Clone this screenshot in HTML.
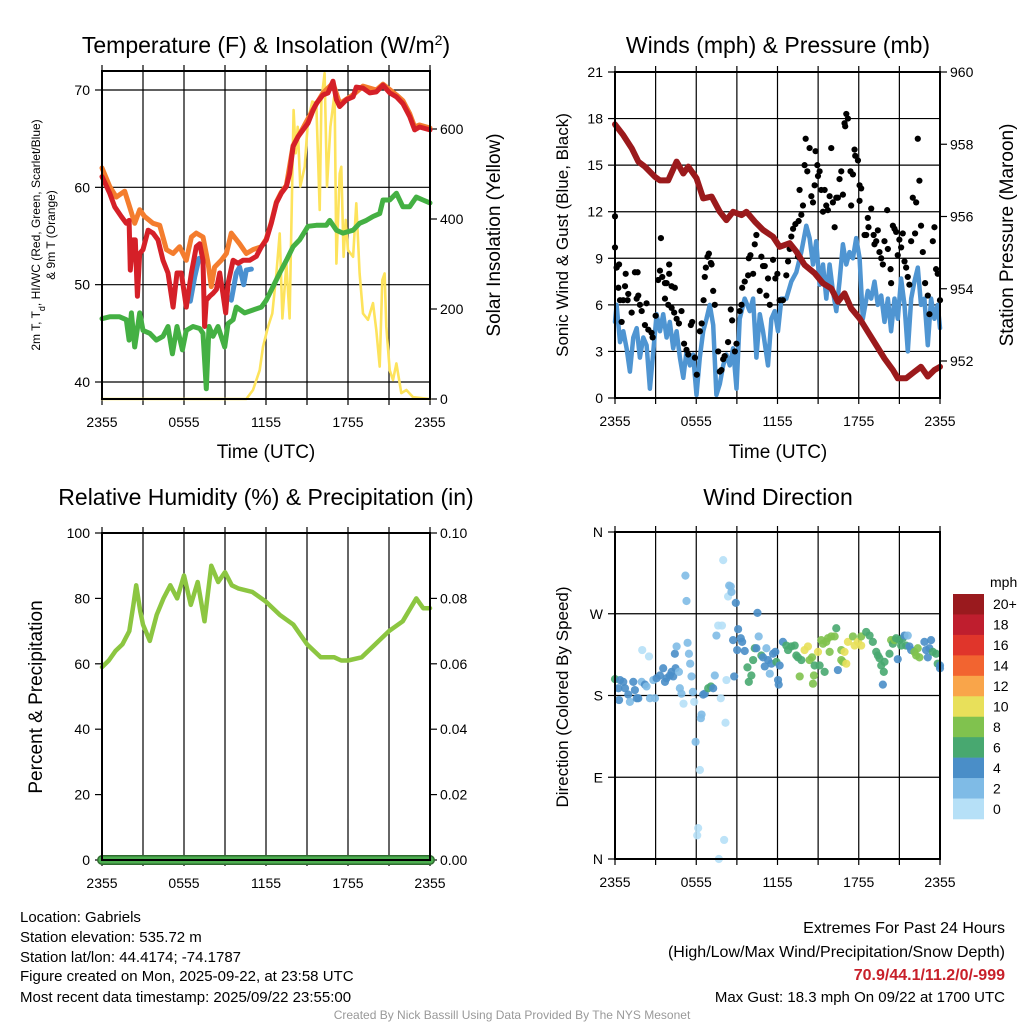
<!DOCTYPE html>
<html><head><meta charset="utf-8"><style>
body{margin:0;background:#fff;}
svg{display:block;font-family:"Liberation Sans",sans-serif;}
</style></head><body>
<svg id="c" width="1024" height="1024" viewBox="0 0 1024 1024">
<g id="titles" font-size="23" text-anchor="middle" fill="#000">
<text x="266" y="53">Temperature (F) &amp; Insolation (W/m<tspan baseline-shift="super" font-size="14">2</tspan>)</text>
<text x="778" y="53">Winds (mph) &amp; Pressure (mb)</text>
<text x="266" y="505">Relative Humidity (%) &amp; Precipitation (in)</text>
<text x="778" y="505">Wind Direction</text>
</g>
<g font-size="19" text-anchor="middle">
<text x="266" y="458">Time (UTC)</text>
<text x="778" y="458">Time (UTC)</text>
<text transform="translate(500,235) rotate(-90)">Solar Insolation (Yellow)</text>
<text transform="translate(1013,235) rotate(-90)">Station Pressure (Maroon)</text>
<text transform="translate(42,697) rotate(-90)">Percent &amp; Precipitation</text>
</g>
<g font-size="17" text-anchor="middle">
<text transform="translate(568,235) rotate(-90)">Sonic Wind &amp; Gust (Blue, Black)</text>
<text transform="translate(568,697) rotate(-90)">Direction (Colored By Speed)</text>
</g>
<g font-size="12" text-anchor="middle">
<text transform="translate(40,235) rotate(-90)">2m T, T<tspan baseline-shift="sub" font-size="9">d</tspan>, HI/WC (Red, Green, Scarlet/Blue)</text>
<text transform="translate(55,235) rotate(-90)">&amp; 9m T (Orange)</text>
</g>
<g font-size="15" fill="#000">
<text x="20" y="922">Location: Gabriels</text>
<text x="20" y="942">Station elevation: 535.72 m</text>
<text x="20" y="962">Station lat/lon: 44.4174; -74.1787</text>
<text x="20" y="981">Figure created on Mon, 2025-09-22, at 23:58 UTC</text>
<text x="20" y="1002">Most recent data timestamp: 2025/09/22 23:55:00</text>
<g text-anchor="end">
<text x="1005" y="933" font-size="16">Extremes For Past 24 Hours</text>
<text x="1005" y="957" font-size="16">(High/Low/Max Wind/Precipitation/Snow Depth)</text>
<text x="1005" y="980" font-size="16" font-weight="bold" fill="#c8202a">70.9/44.1/11.2/0/-999</text>
<text x="1005" y="1002">Max Gust: 18.3 mph On 09/22 at 1700 UTC</text>
</g>
<text x="512" y="1019" font-size="12" fill="#999" text-anchor="middle">Created By Nick Bassill Using Data Provided By The NYS Mesonet</text>
</g>
</svg>
<script>
// ---- Temperature panel data (hours since 2355) ----
const redH=[0,0.56,0.93,1.41,1.78,1.98,2.07,2.27,2.44,2.59,2.76,3.0,3.37,3.73,4.1,4.46,4.83,5.2,5.49,5.8,6.17,6.54,6.9,7.15,7.39,7.51,7.63,7.88,8.12,8.37,8.61,8.85,9.05,9.22,9.59,9.95,10.32,10.8,11.29,11.66,12.02,12.39,12.76,13.12,13.49,13.73,13.98,14.34,14.71,15.07,15.44,15.68,16.17,16.54,16.9,17.15,17.39,17.88,18.37,18.61,19.1,19.59,20.07,20.56,21.05,21.54,22.02,22.51,22.88,23.24,24];
const redT=[61.1,59.4,58.0,57.0,56.3,56.6,51.5,54.6,54.6,48.8,53.2,53.6,55.6,55.3,54.6,52.5,51.2,47.7,51.2,51.2,47.7,51.2,53.9,54.2,52.5,45.7,48.4,48.8,49.1,49.5,51.2,49.1,47.1,50.1,52.5,52.2,52.5,52.5,52.9,53.9,54.6,56.3,58.4,59.4,60.1,61.4,64.2,65.2,65.9,66.6,67.9,68.6,69.5,69.7,70.9,69.0,68.3,69.0,69.3,70.3,70.2,69.7,69.8,70.5,69.7,69.3,68.6,67.3,65.9,66.2,65.9];
const orangeH=[0,0.56,1.05,1.66,2.02,2.39,2.76,3.12,3.73,4.22,4.71,5.2,5.68,6.17,6.54,6.9,7.39,7.76,8.0,8.24,8.73,9.1,9.46,10.07,10.56,11.05,11.66,12.02,12.39,12.76,13.12,13.49,13.98,14.71,15.44,16.17,16.9,17.39,18.37,19.1,20.07,20.56,21.54,22.02,22.51,22.88,23.24,24];
const orangeT=[62.0,60.1,59.0,59.6,58.0,56.3,57.7,57.0,56.3,56.1,53.6,53.2,53.9,52.5,54.9,55.3,54.9,52.2,49.8,51.8,52.5,53.2,55.3,54.2,53.2,53.6,53.9,54.7,56.4,58.5,59.5,60.2,64.3,66.1,68.0,69.7,70.7,68.6,69.5,70.4,70.0,70.6,69.5,68.9,67.6,66.2,66.4,66.1];
const blueH=[6.46,6.78,7.1,null,9.46,9.83,10.07,10.37,10.56,10.93];
const blueT=[48.3,50.8,52.7,null,48.4,51.2,51.8,50.0,51.5,51.6];
const greenH=[0,0.56,1.29,1.78,1.98,2.15,2.39,2.76,3.0,3.49,3.98,4.46,4.83,5.15,5.49,5.88,6.17,6.66,7.15,7.39,7.63,7.83,8.12,8.49,8.98,9.22,9.59,9.83,10.44,11.05,11.66,12.02,12.51,13.0,13.49,13.98,14.46,15.07,15.68,16.41,16.66,17.15,17.63,18.37,18.85,19.34,19.83,20.32,20.56,21.05,21.54,22.02,22.51,23.0,23.49,24];
const greenT=[46.5,46.7,46.7,46.4,44.3,47.1,43.6,47.1,45.3,45.0,44.3,44.7,45.7,42.9,45.7,43.3,45.3,45.7,45.5,45.0,39.3,45.7,44.7,45.7,43.6,46.0,46.4,47.7,47.1,47.4,47.7,48.4,49.8,51.2,52.5,53.9,54.6,56.0,56.1,56.1,56.6,55.6,55.3,55.6,56.3,56.6,57.0,57.3,58.7,58.7,59.4,58.0,58.0,59.0,58.7,58.4];
const solarH=[0,10.56,11.05,11.54,11.78,12.15,12.46,12.76,13.0,13.2,13.49,13.73,14.02,14.17,14.32,14.51,14.83,15.07,15.39,15.68,15.93,16.05,16.29,16.46,16.71,17.02,17.15,17.39,17.51,17.68,17.83,18.0,18.37,18.61,18.85,19.1,19.46,19.83,20.07,20.32,20.51,20.68,20.8,21.05,21.29,21.54,21.9,22.27,22.76,24];
const solarW=[0,0,20,64,116,161,190,279,368,179,301,179,642,546,605,472,516,620,661,657,420,664,724,472,605,679,301,501,516,316,398,331,316,435,279,190,176,213,153,72,264,279,161,64,42,79,13,20,4,0];
// ---- Winds panel data ----
const windH=[0,0.12,0.37,0.61,0.86,1.1,1.35,1.6,1.84,2.09,2.33,2.58,2.83,3.07,3.32,3.56,3.81,4.05,4.3,4.55,4.79,5.04,5.28,5.53,5.77,6.02,6.26,6.51,6.76,7.0,7.25,7.49,7.74,7.99,8.23,8.48,8.72,8.97,9.21,9.58,9.95,10.2,10.44,10.69,10.93,11.3,11.55,11.79,12.04,12.29,12.65,13.02,13.39,13.76,14.13,14.37,14.62,14.86,15.11,15.36,15.6,15.85,16.09,16.34,16.58,16.83,17.08,17.32,17.57,17.81,18.06,18.3,18.67,18.92,19.16,19.41,19.66,19.9,20.15,20.39,20.64,20.88,21.13,21.38,21.62,21.87,22.11,22.36,22.6,22.85,23.1,23.34,23.59,23.83,24];
const windV=[4.9,6.0,3.6,4.3,3.2,1.7,3.9,4.5,2.6,3.9,3.4,0.6,3.0,5.4,4.3,5.4,3.9,4.9,3.2,4.3,2.6,1.3,3.0,2.1,2.8,0.2,2.6,4.3,5.1,6.0,4.7,0.2,0.9,2.1,2.8,2.1,3.2,0.6,5.1,6.4,5.6,6.4,2.6,5.4,4.3,2.1,5.1,5.6,4.3,6.4,6.4,7.5,8.1,9.4,11.1,10.3,8.6,10.1,7.3,8.6,6.4,8.6,6.9,5.6,7.5,9.9,8.6,9.4,9.0,10.3,9.0,5.1,6.9,6.4,7.5,6.0,6.6,4.9,6.4,4.3,6.4,5.1,7.7,6.0,3.0,6.4,7.5,8.4,6.0,6.4,3.4,6.4,5.1,6.0,4.5];
const gustH=[0,0,0.12,0.3,0.25,0.37,0.61,0.74,0.79,0.93,0.98,0.49,1.23,1.47,1.67,1.6,1.72,1.84,1.97,2.21,2.33,2.46,2.7,2.78,3.0,3.19,3.32,3.39,3.49,3.69,3.81,3.69,4.0,4.0,4.18,4.42,3.93,4.18,4.37,4.55,4.72,4.91,5.1,5.28,5.41,5.6,5.7,5.9,6.04,6.27,6.4,6.54,6.63,6.71,6.83,6.93,7.08,7.13,7.25,7.37,7.62,7.74,7.86,7.99,8.1,8.35,8.55,8.65,8.85,8.97,9.21,9.34,9.39,9.58,9.83,9.88,10.0,10.2,10.32,10.44,10.69,10.81,10.93,11.06,11.18,11.3,11.43,11.67,11.84,11.99,12.16,12.4,12.65,12.78,12.9,13.02,13.15,13.32,13.51,13.56,13.76,13.88,13.63,14.0,14.08,14.2,14.37,14.5,14.62,14.74,14.81,14.94,14.99,15.11,15.23,15.36,15.48,15.6,15.72,15.85,15.97,16.09,16.22,16.34,16.46,16.58,16.71,16.83,16.95,17.08,17.2,17.0,17.39,17.57,17.69,17.74,17.94,18.06,18.18,18.06,17.44,18.43,18.55,18.67,18.72,18.92,19.1,19.16,19.29,19.41,19.53,19.66,19.78,19.9,20.1,20.15,20.35,20.39,20.52,20.64,20.76,20.88,21.0,21.13,21.25,21.38,21.5,21.62,21.74,21.87,21.99,22.16,22.24,22.36,22.48,22.6,22.73,22.9,23.1,23.22,23.47,23.59,23.71,23.83,24];
const gustV=[11.7,9.7,8.4,8.6,7.1,6.3,6.3,7.2,8.0,6.3,6.7,4.9,5.5,8.1,8.1,6.4,6.6,6.0,5.6,4.7,6.1,4.4,4.2,3.9,5.3,7.6,8.2,10.3,7.8,7.4,7.4,6.4,8.6,8.0,7.2,7.1,6.0,5.8,5.5,5.1,4.8,5.6,3.5,3.1,2.8,4.7,4.9,2.6,1.5,4.3,4.8,6.3,7.8,8.4,9.1,9.3,8.7,8.6,6.9,6.0,3.0,1.7,1.8,2.5,2.7,3.6,5.7,5.0,3.0,3.5,5.6,6.0,7.1,7.5,7.9,9.0,9.2,8.0,9.9,10.5,6.9,9.1,8.5,8.5,6.6,7.7,6.0,8.9,7.7,8.0,6.3,6.3,7.9,8.8,9.6,10.4,10.9,11.2,9.1,11.4,11.8,12.4,13.4,15.0,16.7,14.6,16.1,13.0,12.6,13.7,15.9,15.0,14.3,14.6,13.4,12.0,13.4,12.4,12.1,13.0,16.1,12.6,11.0,12.9,12.9,14.1,14.6,13.1,17.7,18.3,18.0,17.5,14.6,14.4,16.0,15.6,15.3,13.7,13.5,12.7,12.4,10.5,10.5,11.6,11.0,12.2,10.5,9.9,10.1,10.8,9.4,9.0,8.6,10.1,12.1,9.6,8.3,7.4,11.1,10.9,10.7,9.2,10.2,9.7,10.6,8.8,8.4,7.8,7.3,10.1,12.9,10.6,12.6,16.7,14.0,11.1,9.4,7.4,6.6,5.4,10.1,11.0,8.3,8.0,6.3];
const presH=[0,0.61,1.23,1.72,2.21,2.95,3.32,3.93,4.55,5.04,5.41,6.02,6.51,7.13,7.74,8.23,8.72,9.34,9.71,10.32,10.93,11.67,12.16,12.9,13.39,14.0,14.74,15.36,15.97,16.46,16.95,17.44,18.06,18.67,19.29,19.9,20.52,20.88,21.5,22.11,22.6,23.1,23.59,24];
const presV=[958.55,958.25,957.89,957.52,957.38,957.1,957.0,957.0,957.52,957.19,957.38,957.06,956.5,956.55,956.13,955.9,956.13,956.04,956.13,955.86,955.63,955.44,955.16,955.26,955.03,954.66,954.43,954.15,954.01,953.64,953.87,953.46,953.18,952.81,952.44,952.07,951.75,951.52,951.52,951.7,951.84,951.57,951.75,951.84];
// ---- Humidity panel data ----
const rhH=[0,0.5,1,1.5,2,2.3,2.5,2.8,3,3.5,4,4.5,5,5.5,6,6.5,7,7.5,8,8.5,9,9.5,10,11,12,13,14,15,16,17,17.5,18,19,20,21,22,23,23.5,24];
const rhV=[59,61,64,66,70,78,84,76,72,67,75,80,84,80,87,78,85,73,90,85,88,84,83,82,79,75,72,66,62,62,61,61,62,66,70,73,80,77,77];
const precipH=[0,24];
const precipV=[0,0];
// ---- Wind direction data ----
const dirH=[0,0.25,0.37,0.61,0.74,0.3,0.98,1.1,1.35,1.47,1.6,1.72,1.97,2.01,2.21,2.33,2.51,2.58,2.83,2.95,3.07,3.32,3.56,3.69,3.81,4.05,4.18,4.3,4.42,4.55,4.47,4.72,4.79,4.91,5.06,5.2,5.28,5.36,5.46,5.55,5.65,5.75,5.85,5.95,6.27,6.14,6.07,6.39,6.34,6.51,6.63,6.88,7.08,7.25,7.37,7.49,7.62,7.67,7.81,7.9,7.99,8.06,8.16,8.23,8.35,8.43,8.55,8.6,8.72,8.8,8.92,9.02,9.09,9.29,9.39,9.58,9.78,9.88,10.07,10.2,10.32,10.44,10.52,10.61,10.81,10.93,11.06,11.18,11.3,11.43,11.55,11.67,11.84,11.92,12.04,12.09,12.16,12.4,12.65,12.78,13.02,13.27,13.39,13.51,13.64,13.76,14.0,14.25,14.37,14.55,14.69,14.74,14.62,14.99,15.11,15.23,15.36,15.48,15.6,15.72,15.85,15.97,16.22,16.34,16.46,16.71,16.71,16.83,16.95,17.08,17.2,17.57,17.69,17.94,18.18,18.18,18.55,18.8,19.04,19.29,19.41,19.53,19.66,19.85,19.78,19.9,20.27,20.39,20.52,20.64,20.76,20.88,21.0,21.13,21.25,21.38,21.5,21.62,21.74,21.87,22.11,22.24,22.36,22.48,22.85,22.97,23.1,23.22,23.34,23.47,23.71,23.83,24,24];
const dirDeg=[198,188,197,195,188,175,181,173,195,186,177,177,195,230,192,190,223,177,197,177,199,202,210,195,199,202,206,201,226,234,210,206,188,182,171,312,284,238,226,215,201,184,173,129,98,34,26,159,155,181,182,188,190,188,202,246,257,0,177,257,329,21,150,197,289,301,300,294,241,201,282,230,253,243,239,229,211,195,202,219,232,232,271,245,224,222,212,232,219,204,215,226,228,217,197,192,213,239,235,230,234,235,224,222,201,219,230,234,219,222,202,213,193,228,213,241,237,206,239,243,228,245,245,254,208,230,219,217,228,215,239,245,235,239,235,245,250,246,239,228,224,221,213,206,192,217,226,241,237,241,243,220,241,235,243,246,235,246,234,230,228,224,232,222,239,230,222,232,241,228,226,215,210,213];
const dirSpd=[6,4,4,4,4,4,4,2,4,4,4,4,2,0,4,2,0,2,2,2,4,4,4,4,4,4,4,4,4,2,4,2,2,2,0,2,2,2,2,2,2,2,0,2,0,0,0,2,2,4,4,6,6,4,2,2,0,0,0,0,0,0,0,0,0,2,2,2,4,4,4,4,4,4,4,4,6,6,6,6,6,4,4,2,6,4,4,2,4,2,4,4,4,6,4,4,4,4,6,6,6,6,6,6,8,6,10,10,8,8,8,6,8,10,6,8,8,6,8,8,8,8,8,6,4,8,8,8,10,10,10,8,10,10,10,8,6,6,6,6,6,6,6,6,4,6,6,8,6,8,6,4,6,6,6,4,6,2,4,4,8,8,8,8,4,4,4,4,4,6,6,6,4,4];
const binLabels=["20+","18","16","14","12","10","8","6","4","2","0"];
const binColors=["#9a1a1e","#bf1e2e","#e0352b","#f26430","#f9a54a","#e8e05a","#80c24e","#48a870","#4a8ec8","#7fbbe6","#b6e0f7"];
const timeLabels=["2355","0555","1155","1755","2355"];

const NS="http://www.w3.org/2000/svg";
const svg=document.getElementById('c');
function mk(tag,attrs,parent){const e=document.createElementNS(NS,tag);for(const k in attrs)e.setAttribute(k,attrs[k]);(parent||svg).appendChild(e);return e;}
function panel(x0,x1,y0,y1){return {x0,x1,y0,y1,sx:h=>x0+(x1-x0)*h/24};}
function lin(d0,d1,p0,p1){return v=>p0+(v-d0)*(p1-p0)/(d1-d0);}
function pathD(hs,vs,sx,sy){let d="",pen=false;for(let i=0;i<hs.length;i++){if(hs[i]===null){pen=false;continue;}d+=(pen?"L":"M")+sx(hs[i]).toFixed(1)+","+sy(vs[i]).toFixed(1);pen=true;}return d;}
function frame(P,name){
  const g=mk('g',{});
  
  
  for(let h=3;h<24;h+=3){mk('line',{x1:P.sx(h),x2:P.sx(h),y1:P.y0,y2:P.y1,stroke:'#000','stroke-width':1.2},g);}
  for(let h=0;h<=24;h+=3){mk('line',{x1:P.sx(h),x2:P.sx(h),y1:P.y1,y2:P.y1+6,stroke:'#000','stroke-width':1.2},g);mk('line',{x1:P.sx(h),x2:P.sx(h),y1:P.y0,y2:P.y0-6,stroke:'#000','stroke-width':1.2},g);}
  timeLabels.forEach((t,i)=>{const tx=mk('text',{x:P.sx(i*6),y:P.y1+28,'font-size':14,'text-anchor':'middle'},g);tx.textContent=t;
    
    });
  return g;
}
function border(P,name){const r=mk('rect',{x:P.x0,y:P.y0,width:P.x1-P.x0,height:P.y1-P.y0,fill:'none',stroke:'#000','stroke-width':2});
  
  }
function yTicks(P,vals,labels,sy,side,grid){
  const g=mk('g',{'font-size':14});
  
  
  vals.forEach((v,i)=>{const y=sy(v);
    if(grid)mk('line',{x1:P.x0,x2:P.x1,y1:y,y2:y,stroke:'#000','stroke-width':1.2},g);
    if(side==='left'){mk('line',{x1:P.x0-7,x2:P.x0,y1:y,y2:y,stroke:'#000','stroke-width':1.2},g);
      const t=mk('text',{x:P.x0-12,y:y+5,'text-anchor':'end'},g);t.textContent=labels[i];}
    else{mk('line',{x1:P.x1,x2:P.x1+7,y1:y,y2:y,stroke:'#000','stroke-width':1.2},g);
      const t=mk('text',{x:P.x1+10,y:y+5,'text-anchor':'start'},g);t.textContent=labels[i];}
  });
}
function line(d,color,w,name){const p=mk('path',{d:d,fill:'none',stroke:color,'stroke-width':w,'stroke-linejoin':'round','stroke-linecap':'round'});
  
  return p;}

// Panel 1: temperature
const P1=panel(102,430,71,399);
const tY=lin(40,70,382,90), sY=lin(0,600,399,129);
frame(P1,'temperature');
yTicks(P1,[40,50,60,70],["40","50","60","70"],tY,'left',true);
yTicks(P1,[0,200,400,600],["0","200","400","600"],sY,'right',false);
line(pathD(solarH,solarW,P1.sx,sY),'#fde35c',2.6,'solar-insolation-line');
line(pathD(greenH,greenT,P1.sx,tY),'#44b043',5,'dewpoint-line');
line(pathD(blueH,blueT,P1.sx,tY),'#4a90d0',5,'heat-index-windchill-line');
line(pathD(orangeH,orangeT,P1.sx,tY),'#f47d2e',5,'9m-temperature-line');
line(pathD(redH,redT,P1.sx,tY),'#d52028',5,'2m-temperature-line');
border(P1,'temperature');

// Panel 2: winds
const P2=panel(615,940,72,398);
const wY=lin(0,21,398,72), pY=lin(952,960,361,72);
frame(P2,'winds');
yTicks(P2,[0,3,6,9,12,15,18,21],["0","3","6","9","12","15","18","21"],wY,'left',true);
yTicks(P2,[952,954,956,958,960],["952","954","956","958","960"],pY,'right',false);
line(pathD(windH,windV,P2.sx,wY),'#4f95d2',4.5,'sonic-wind-line');
gustH.forEach((h,i)=>{const c=mk('circle',{cx:P2.sx(h),cy:wY(gustV[i]),r:3.1,fill:'#000'});
  
  });
line(pathD(presH,presV,P2.sx,pY),'#9b1a1c',6,'station-pressure-line');
border(P2,'winds');

// Panel 3: humidity
const P3=panel(102,430,533,860);
const rY=lin(0,100,860,533), qY=lin(0,0.1,860,533);
frame(P3,'humidity');
yTicks(P3,[0,20,40,60,80,100],["0","20","40","60","80","100"],rY,'left',false);
yTicks(P3,[0,0.02,0.04,0.06,0.08,0.1],["0.00","0.02","0.04","0.06","0.08","0.10"],qY,'right',false);
line(pathD(rhH,rhV,P3.sx,rY),'#8cc641',4.5,'relative-humidity-line');
line(pathD(precipH,precipV,P3.sx,qY),'#2f6b2f',10,'precipitation-line-outline');
line(pathD(precipH,precipV,P3.sx,qY),'#4caf50',7,'precipitation-line');
border(P3,'humidity');

// Panel 4: wind direction
const P4=panel(615,940,532,859);
const dY=lin(0,360,859,532);
frame(P4,'wind-direction');
yTicks(P4,[0,90,180,270,360],["N","E","S","W","N"],dY,'left',true);
dirH.forEach((h,i)=>{const bin=Math.min(10,Math.floor(dirSpd[i]/2));
  const c=mk('circle',{cx:P4.sx(h),cy:dY(dirDeg[i]),r:4.1,fill:binColors[10-bin],opacity:0.9});
  
  });
border(P4,'wind-direction');

// colorbar
const cb=mk('g',{'font-size':14});


const cbTop=594,cbH=225/11;
binLabels.forEach((l,i)=>{mk('rect',{x:953,y:cbTop+i*cbH,width:31,height:cbH+0.3,fill:binColors[i]},cb);
  const t=mk('text',{x:993,y:cbTop+i*cbH+cbH/2+5},cb);t.textContent=l;});
const mt=mk('text',{x:990,y:587,'font-size':14},cb);mt.textContent='mph';
</script>
</body></html>
